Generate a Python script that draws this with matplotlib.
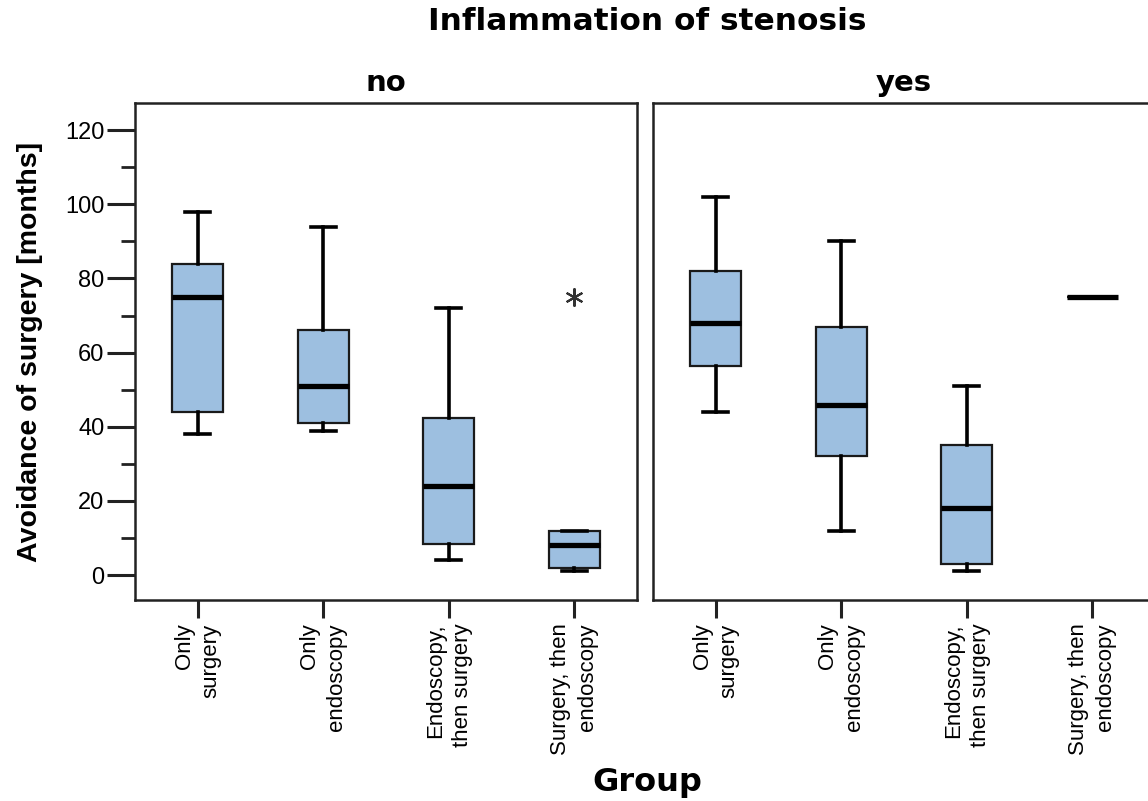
import matplotlib
matplotlib.use("Agg")
import matplotlib.pyplot as plt
from matplotlib.ticker import MultipleLocator

# data (months)
groups = ["Only\nsurgery", "Only\nendoscopy", "Endoscopy,\nthen surgery", "Surgery, then\nendoscopy"]
panels = ["no", "yes"]

no_whislo = [38, 39, 4, 1]
no_q1 = [44, 41, 8.5, 2]
no_med = [75, 51, 24, 8]
no_q3 = [84, 66, 42.5, 12]
no_whishi = [98, 94, 72, 12]
no_fliers = [[], [], [], [75]]

yes_whislo = [44, 12, 1, 75]
yes_q1 = [56.5, 32, 3, 75]
yes_med = [68, 46, 18, 75]
yes_q3 = [82, 67, 35, 75]
yes_whishi = [102, 90, 51, 75]
yes_fliers = [[], [], [], []]

BOX_COLOR = "#9dbfe0"
SANS = ["Liberation Sans", "DejaVu Sans"]


def make_stats(whislo, q1, med, q3, whishi, fliers):
    return [dict(whislo=a, q1=b, med=c, q3=d, whishi=e, fliers=f)
            for a, b, c, d, e, f in zip(whislo, q1, med, q3, whishi, fliers)]


fig = plt.figure(figsize=(11.48, 8.01), dpi=100)
ax_no = fig.add_axes([135 / 1148, 1 - 600 / 801, 502 / 1148, 497 / 801])
ax_yes = fig.add_axes([653 / 1148, 1 - 600 / 801, 502 / 1148, 497 / 801])

stats = {
    "no": make_stats(no_whislo, no_q1, no_med, no_q3, no_whishi, no_fliers),
    "yes": make_stats(yes_whislo, yes_q1, yes_med, yes_q3, yes_whishi, yes_fliers),
}

positions = [0.5, 1.5, 2.5, 3.5]
for ax, name in zip([ax_no, ax_yes], panels):
    ax.bxp(stats[name], positions=positions, widths=0.41, patch_artist=True,
           boxprops=dict(facecolor=BOX_COLOR, edgecolor="#1a1a1a", linewidth=1.6),
           medianprops=dict(color="black", linewidth=3.8, solid_capstyle="butt"),
           whiskerprops=dict(color="black", linewidth=2.6),
           capprops=dict(color="black", linewidth=2.6),
           capwidths=0.2,
           flierprops=dict(marker=(6, 2, 0), markersize=13, markeredgecolor="#333333",
                           markeredgewidth=1.5, linestyle="none"))
    ax.set_xlim(0, 4)
    ax.set_ylim(-6.7, 127.3)
    ax.set_xticks(positions)
    ax.set_xticklabels(groups, rotation=90, ha="center", va="top", ma="right",
                       family=SANS, fontsize=16, linespacing=1.35)
    ax.tick_params(axis="x", length=13, width=2.2, color="#222222", pad=4)
    for sp in ax.spines.values():
        sp.set_linewidth(1.8)
        sp.set_color("#222222")
    ax.set_title(name, fontsize=21, fontweight="bold", family="DejaVu Sans", pad=9)

ax_no.yaxis.set_major_locator(MultipleLocator(20))
ax_no.yaxis.set_minor_locator(MultipleLocator(10))
ax_no.tick_params(axis="y", which="major", length=20, width=2.2, color="#222222",
                  labelsize=17, pad=2)
ax_no.tick_params(axis="y", which="minor", length=10, width=2, color="#222222")
for lab in ax_no.get_yticklabels():
    lab.set_family(SANS)
ax_no.set_ylabel("Avoidance of surgery [months]", family=SANS, fontweight="bold",
                 fontsize=20.5, labelpad=16)
ax_yes.set_yticks([])

fig.text(647 / 1148, 1 - 22 / 801, "Inflammation of stenosis", ha="center", va="center",
         fontsize=22.5, fontweight="bold", family="DejaVu Sans")
fig.text(647 / 1148, 1 - 783 / 801, "Group", ha="center", va="center",
         fontsize=23, fontweight="bold", family="DejaVu Sans")

fig.savefig("out.png", dpi=100)
